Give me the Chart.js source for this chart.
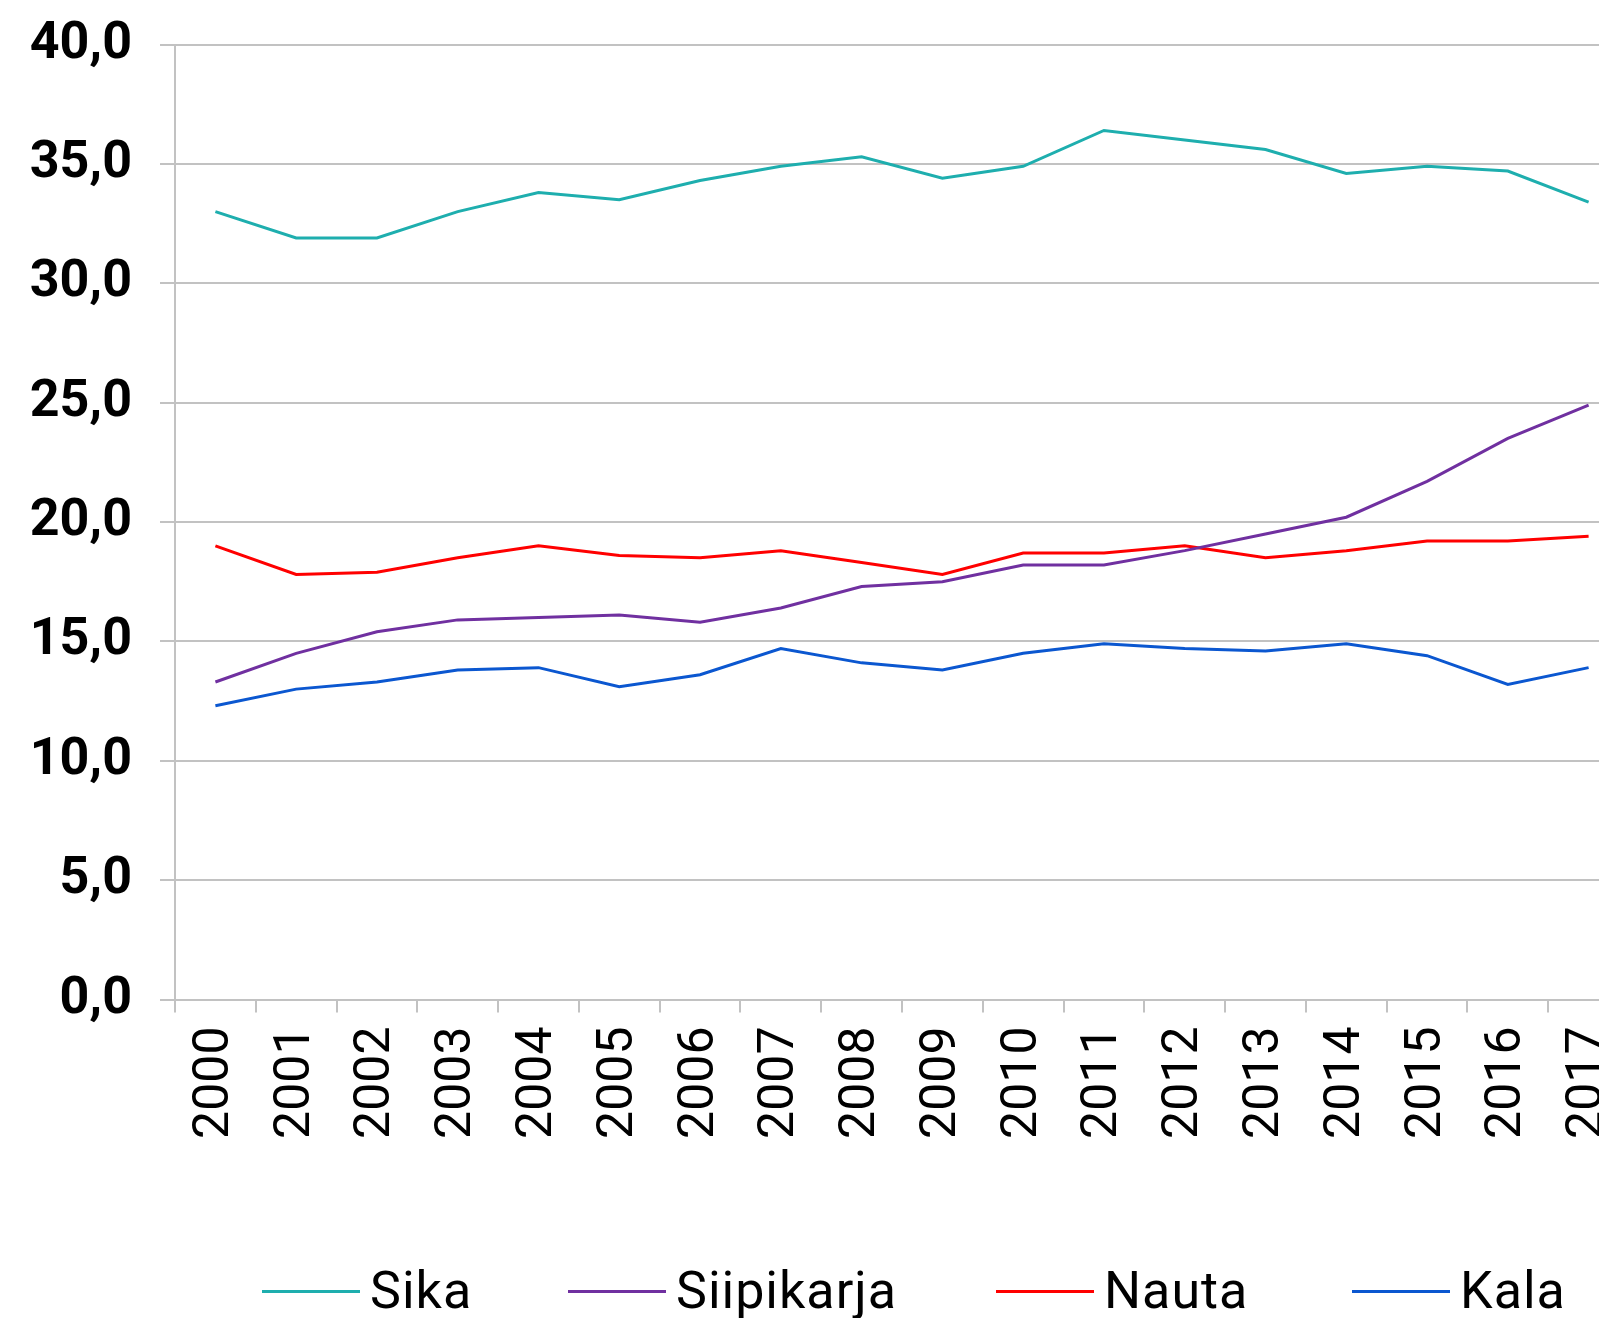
<!DOCTYPE html>
<html>
<head>
<meta charset="utf-8">
<script src="https://cdn.jsdelivr.net/npm/chart.js@4/dist/chart.umd.min.js"></script>
<style>
  body { margin: 0; overflow: hidden; background: #fff; }
  #wrap { position: relative; width: 1680px; height: 1318px; }
  #legend {
    position: absolute; left: 0; top: 1261px; width: 1599px; height: 60px;
    font-family: Roboto, sans-serif; font-size: 52px; line-height: 60px; color: #000;
    letter-spacing: 1px;
  }
  .item { position: absolute; top: 0; display: flex; align-items: center; height: 60px; }
  .swatch { width: 98px; height: 3px; margin-right: 10px; }
</style>
</head>
<body>
<div id="wrap"><canvas id="chart"></canvas></div>
<div id="legend"></div>
<script>
const years = ['2000', '2001', '2002', '2003', '2004', '2005', '2006', '2007', '2008',
               '2009', '2010', '2011', '2012', '2013', '2014', '2015', '2016', '2017'];
const sika       = [33.0, 31.9, 31.9, 33.0, 33.8, 33.5, 34.3, 34.9, 35.3, 34.4, 34.9, 36.4, 36.0, 35.6, 34.6, 34.9, 34.7, 33.4];
const siipikarja = [13.3, 14.5, 15.4, 15.9, 16.0, 16.1, 15.8, 16.4, 17.3, 17.5, 18.2, 18.2, 18.8, 19.5, 20.2, 21.7, 23.5, 24.9];
const nauta      = [19.0, 17.8, 17.9, 18.5, 19.0, 18.6, 18.5, 18.8, 18.3, 17.8, 18.7, 18.7, 19.0, 18.5, 18.8, 19.2, 19.2, 19.4];
const kala       = [12.3, 13.0, 13.3, 13.8, 13.9, 13.1, 13.6, 14.7, 14.1, 13.8, 14.5, 14.9, 14.7, 14.6, 14.9, 14.4, 13.2, 13.9];

const seriesNames = ['Sika', 'Siipikarja', 'Nauta', 'Kala'];
const seriesColors = ['#1eaeae', '#7030a0', '#ff0000', '#0b57d0'];
const yMin = 0;
const yMax = 40;
const yStep = 5;

const gridColor = '#c2c2c2';
// left edge of each legend entry, px
const legendLeft = [262, 568, 996, 1352];

const datasets = [sika, siipikarja, nauta, kala].map((values, i) => ({
    label: seriesNames[i],
    data: values,
    borderColor: seriesColors[i],
    backgroundColor: seriesColors[i],
    borderWidth: 3,
    pointRadius: 0,
    tension: 0,
    fill: false
}));

Chart.defaults.font.family = 'Roboto, sans-serif';

const ctx = document.getElementById('chart').getContext('2d');
new Chart(ctx, {
    type: 'line',
    data: { labels: years, datasets },
    options: {
        responsive: true,
        maintainAspectRatio: false,
        animation: false,
        layout: { padding: { top: 44.5, right: 51, bottom: 0, left: 0 } },
        plugins: {
            legend: { display: false },
            tooltip: { enabled: false }
        },
        scales: {
            x: {
                offset: true,
                grid: { offset: true, drawOnChartArea: false, tickLength: 13, color: gridColor, lineWidth: 2 },
                border: { display: true, color: gridColor, width: 2 },
                ticks: {
                    autoSkip: false,
                    minRotation: 90,
                    maxRotation: 90,
                    padding: 14,
                    color: '#000',
                    font: { size: 50 }
                },
                afterFit: scale => { scale.height = 318.5; }
            },
            y: {
                min: yMin,
                max: yMax,
                grid: { tickLength: 15, color: gridColor, lineWidth: 2 },
                border: { display: true, color: gridColor, width: 2 },
                ticks: {
                    stepSize: yStep,
                    padding: 28,
                    color: '#000',
                    font: { size: 52, weight: 'bold' },
                    callback: v => v.toFixed(1).replace('.', ',')
                },
                afterFit: scale => {
                    scale.width = 175;
                    // keep the top of the plot where the layout padding puts it
                    scale.paddingTop = 0;
                    scale.paddingBottom = 0;
                }
            }
        }
    }
});

// legend under the chart
const legend = document.getElementById('legend');
seriesNames.forEach((name, i) => {
    const item = document.createElement('div');
    item.className = 'item';
    item.style.left = legendLeft[i] + 'px';
    const sw = document.createElement('span');
    sw.className = 'swatch';
    sw.style.background = seriesColors[i];
    const txt = document.createElement('span');
    txt.textContent = name;
    item.appendChild(sw);
    item.appendChild(txt);
    legend.appendChild(item);
});
</script>
</body>
</html>
